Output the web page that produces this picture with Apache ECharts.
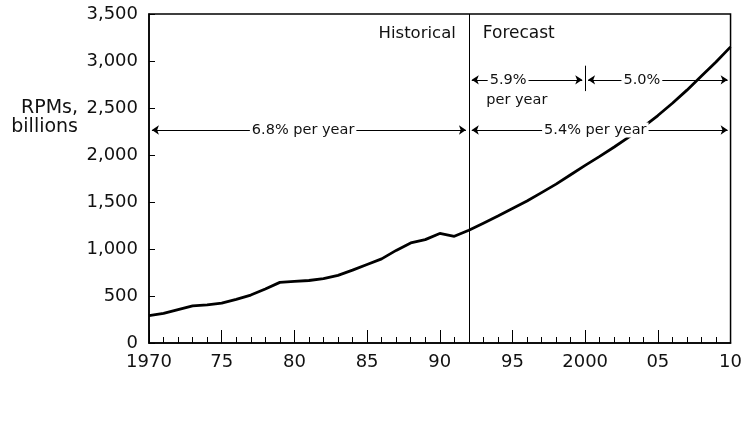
<!DOCTYPE html>
<html>
<head>
<meta charset="utf-8">
<script src="https://cdn.jsdelivr.net/npm/echarts@6/dist/echarts.min.js"></script>
<style>
  html, body { margin: 0; padding: 0; background: #fff; }
  #chart { width: 745px; height: 431px; }
</style>
</head>
<body>
<div id="chart"></div>
<script>
// RPMs, billions — historical to 1992, forecast after
const years = [1970, 1971, 1972, 1973, 1974, 1975, 1976, 1977, 1978, 1979, 1980,
  1981, 1982, 1983, 1984, 1985, 1986, 1987, 1988, 1989, 1990, 1991, 1992,
  1993, 1994, 1995, 1996, 1997, 1998, 1999, 2000, 2001, 2002, 2003, 2004, 2005,
  2006, 2007, 2008, 2009, 2010];
const rpms = [290, 315, 355, 395, 405, 425, 465, 510, 575, 645, 655,
  665, 685, 720, 775, 835, 895, 985, 1065, 1100, 1165, 1135, 1200,
  1275, 1350, 1430, 1510, 1600, 1690, 1790, 1890, 1985, 2085, 2190, 2300, 2420,
  2550, 2690, 2840, 2990, 3150];
const xTickLabels = { 1970: "1970", 1975: "75", 1980: "80", 1985: "85", 1990: "90",
  1995: "95", 2000: "2000", 2005: "05", 2010: "10" };
const splitYear = 1992;
// growth-rate spans: [from, to, level, label, label position]
const rateSpans = [
  [1970.2, 1991.8, 2266, "6.8% per year", 1980.6],
  [1992.2, 2009.8, 2266, "5.4% per year", 2000.7],
  [1992.2, 1999.8, 2800, "5.9%", 1994.7],
  [2000.2, 2009.8, 2800, "5.0%", 2003.9]
];

const font = "'DejaVu Sans', 'Liberation Sans', sans-serif";
const chart = echarts.init(document.getElementById("chart"));

const arrowLines = rateSpans.map(s => [
  { coord: [s[0], s[2]], symbol: "arrow" },
  { coord: [s[1], s[2]], symbol: "arrow" }
]);
const rateLabels = rateSpans.map(s => ({
  coord: [s[4], s[2]],
  label: { formatter: s[3] }
}));

const option = {
  animation: false,
  grid: { left: 149, right: 8, top: 14, bottom: 88, show: true, borderColor: "#000", borderWidth: 1.5, backgroundColor: "transparent" },
  graphic: [
    { type: "text", right: 667, top: 99, style: { text: "RPMs,", font: "19px " + font, fill: "#111", textAlign: "right" } },
    { type: "text", right: 667, top: 118, style: { text: "billions", font: "19px " + font, fill: "#111", textAlign: "right" } }
  ],
  xAxis: {
    type: "value",
    min: 1970,
    max: 2010,
    interval: 5,
    axisLine: { show: true, lineStyle: { color: "#000", width: 1.5 } },
    axisTick: { inside: true, length: 13, lineStyle: { color: "#000", width: 1 } },
    minorTick: { show: true, splitNumber: 5, length: 6, lineStyle: { color: "#000" } },
    splitLine: { show: false },
    axisLabel: {
      color: "#111", fontSize: 18, fontFamily: font, margin: 10,
      formatter: v => xTickLabels[v] || ""
    }
  },
  yAxis: {
    type: "value",
    min: 0,
    max: 3500,
    interval: 500,
    axisLine: { show: true, lineStyle: { color: "#000", width: 1.5 } },
    axisTick: { inside: true, length: 6, lineStyle: { color: "#000" } },
    splitLine: { show: false },
    axisLabel: {
      color: "#111", fontSize: 18, fontFamily: font, margin: 11,
      formatter: v => v.toLocaleString("en-US")
    }
  },
  series: [
    {
      type: "line",
      data: years.map((y, i) => [y, rpms[i]]),
      showSymbol: false,
      lineStyle: { color: "#000", width: 2.8 },
      markLine: {
        silent: true,
        symbol: ["none", "none"],
        label: { show: false },
        lineStyle: { color: "#000", width: 1, type: "solid" },
        data: [
          [{ coord: [splitYear, 0], symbol: "none" }, { coord: [splitYear, 3500], symbol: "none" }],
          [{ coord: [2000, 2680], symbol: "none" }, { coord: [2000, 2950], symbol: "none" }]
        ].concat(arrowLines),
        symbolSize: 7
      },
      markPoint: {
        silent: true,
        symbolSize: 0,
        label: {
          show: true, color: "#111", fontSize: 14.5, fontFamily: font,
          backgroundColor: "#fff", padding: [0, 2], position: "inside"
        },
        data: rateLabels.concat([
          { coord: [1995.3, 2585], label: { formatter: "per year", backgroundColor: "transparent" } },
          { coord: [splitYear, 3290], label: { formatter: "Historical", position: "left", distance: 11, fontSize: 16.5, backgroundColor: "transparent" } },
          { coord: [splitYear, 3290], label: { formatter: "Forecast", position: "right", distance: 12, fontSize: 17, backgroundColor: "transparent" } }
        ])
      }
    }
  ]
};
chart.setOption(option);
</script>
</body>
</html>
